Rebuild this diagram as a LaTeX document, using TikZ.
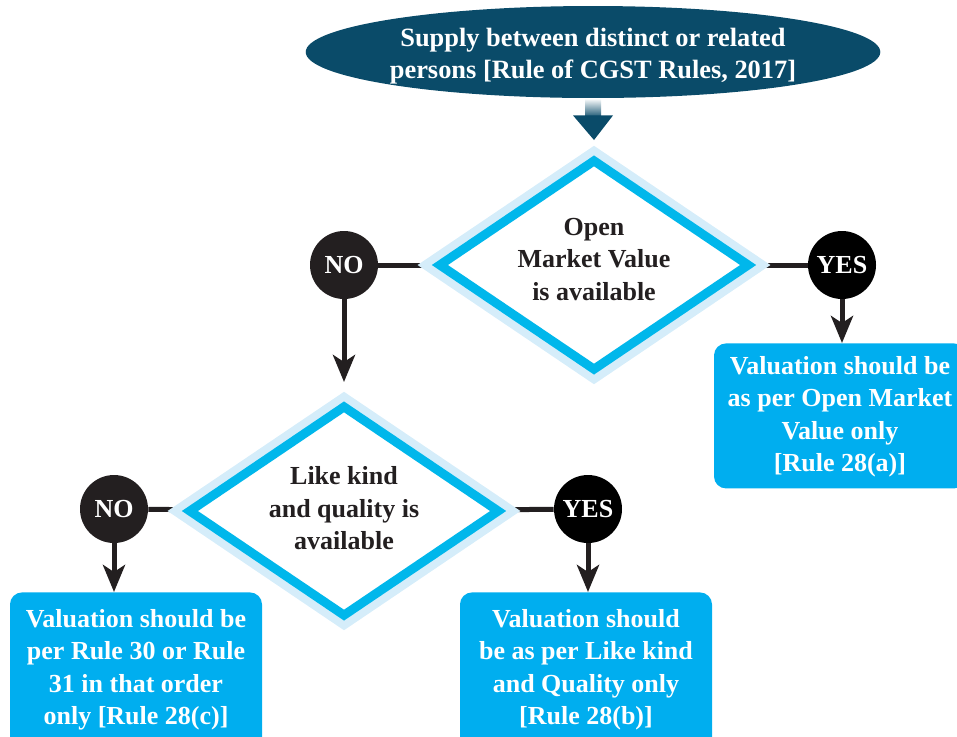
\documentclass[tikz,border=0pt]{standalone}
\usepackage{fontspec}
\setmainfont{Liberation Serif}
\usetikzlibrary{shapes.geometric, arrows.meta, backgrounds}
\definecolor{tealdark}{RGB}{10,75,105}
\definecolor{boxblue}{RGB}{0,174,239}
\definecolor{diamblue}{RGB}{0,183,235}
\definecolor{halo}{RGB}{213,237,250}
\definecolor{nodark}{RGB}{35,31,32}
\newcommand{\boxlines}[3]{\parbox[c][#1][t]{126pt}{\centering\rule{0pt}{#2}#3}}
\tikzset{
  startnode/.style={ellipse, fill=tealdark, text=white, minimum width=280pt, minimum height=46pt,
    inner sep=0pt, align=center, font=\bfseries\fontsize{13.2}{16}\selectfont},
  decision/.style={diamond, fill=white, draw=diamblue, line width=4.5pt,
    preaction={draw=halo, line width=12.5pt}, minimum width=156pt, minimum height=106pt,
    aspect=1.47, inner sep=0pt, align=center, text=nodark, font=\bfseries\fontsize{13}{16.25}\selectfont},
  answer/.style={circle, fill=#1, text=white, minimum size=34pt, inner sep=0pt,
    font=\bfseries\fontsize{13}{16}\selectfont},
  resultbox/.style={fill=boxblue, rounded corners=6pt, text=white, inner sep=0pt, anchor=north,
    font=\bfseries\fontsize{13}{16.25}\selectfont},
  link/.style={draw=nodark, line width=2.5pt},
  flow/.style={link, -{Stealth[length=13.5pt, width=11pt, inset=3.5pt]}}
}
\begin{document}
\begin{tikzpicture}[x=0.5pt, y=-0.5pt]
    \clip (0,0) rectangle (957,736);

    \node[startnode] (top) at (593,52) {\rule{0pt}{13pt}Supply between distinct or related\\persons [Rule of CGST Rules, 2017]};

    \node[decision] (dec1) at (594,265) {Open\\Market Value\\is available\rule[-6pt]{0pt}{6pt}}; % ----- Open market value
    \node[decision] (dec2) at (344,511) {Like kind\\and quality is\\available\rule[-3pt]{0pt}{3pt}}; % ----- Like kind

    \node[answer=nodark] (no1) at (344,265) {NO};
    \node[answer=black] (yes1) at (842,265) {YES};
    \node[answer=nodark] (no2) at (114,509) {NO};
    \node[answer=black] (yes2) at (588,509) {YES};

    \node[resultbox] (rulea) at (840,343) {\boxlines{72.5pt}{15.5pt}{Valuation should be\\as per Open Market\\Value only\\{}[Rule 28(a)]}};
    \node[resultbox] (ruleb) at (586,592) {\boxlines{80pt}{17.5pt}{Valuation should\\be as per Like kind\\and Quality only\\{}[Rule 28(b)]}};
    \node[resultbox] (rulec) at (136,592) {\boxlines{80pt}{17.5pt}{Valuation should be\\per Rule 30 or Rule\\31 in that order\\only [Rule 28(c)]}};

    % ----- top arrow
    \shade[top color=white, bottom color=tealdark] ([xshift=-4pt]top.south) rectangle ([xshift=4pt,yshift=-10pt]top.south);
    \fill[tealdark] ([xshift=-10pt,yshift=-8.5pt]top.south) -- ([xshift=10pt,yshift=-8.5pt]top.south) -- ([yshift=7.25pt]dec1.north) -- cycle;

    \begin{scope}[on background layer]
        \draw[link] (no1) -- (dec1);
        \draw[link] (dec1) -- (yes1);
        \draw[link] (no2) -- (dec2);
        \draw[link] (dec2) -- (yes2);
    \end{scope}

    \draw[flow, shorten >=9.25pt] (no1) -- (dec2);
    \draw[flow] (yes1) -- (yes1 |- rulea.north);
    \draw[flow] (no2) -- (no2 |- rulec.north);
    \draw[flow] (yes2) -- (yes2 |- ruleb.north);
\end{tikzpicture}
\end{document}
